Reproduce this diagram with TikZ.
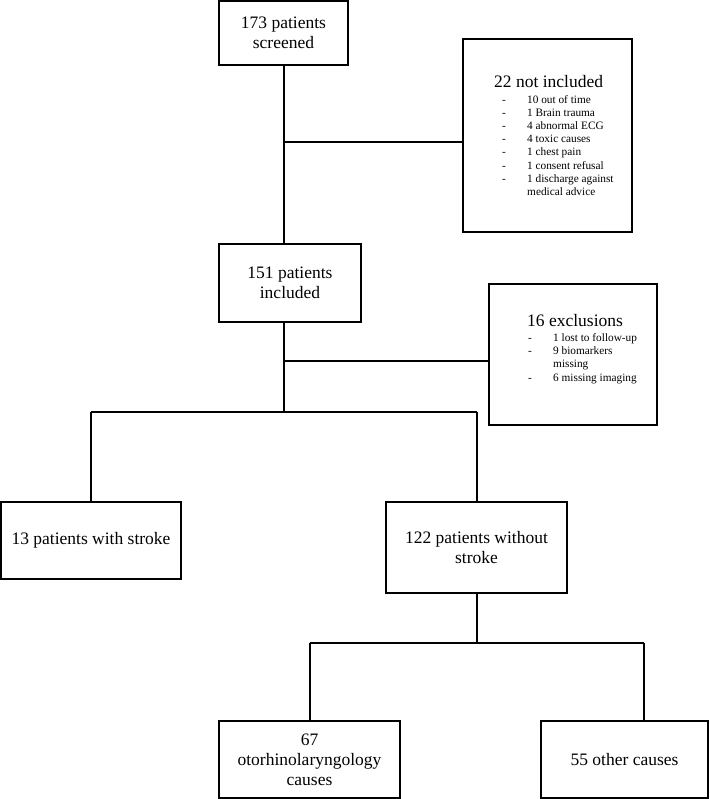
\documentclass[tikz,border=0pt]{standalone}
\usepackage{fontspec}
\setmainfont{Liberation Serif}
\usetikzlibrary{positioning,calc}
\tikzset{
  flowbox/.style={draw,line width=1.4pt,align=center,inner sep=2pt,
    font=\fontsize{17.5}{20}\selectfont},
  exbox/.style={draw,line width=1.4pt},
  exlist/.style={anchor=north west,align=left,inner sep=0pt,
    font=\fontsize{11.3}{13.2}\selectfont},
  link/.style={line width=2pt},
}
\newcommand{\exhead}[1]{{\fontsize{17.5}{13.2}\selectfont #1}}
\newcommand{\exitem}[3]{\hspace*{#1}\makebox[#2][l]{-}#3}

\begin{document}
\begin{tikzpicture}[x=1pt,y=-1pt]
    \useasboundingbox (0,0) rectangle (709,799);
    % main boxes
    \node[flowbox,minimum width=129pt,minimum height=64pt] (screened) at (283.5,33) {173 patients\\screened};
    \node[flowbox,minimum width=142pt,minimum height=78pt] (included) at (290,283) {151 patients\\included};
    \node[flowbox,minimum width=180pt,minimum height=77pt] (stroke) at (91,540.5) {13 patients with stroke};
    \node[flowbox,minimum width=181pt,minimum height=91pt] (nostroke) at (476.5,547.5) {122 patients without\\stroke};
    \node[flowbox,minimum width=181pt,minimum height=77pt] (orl) at (309.5,759.5) {67\\otorhinolaryngology\\causes};
    \node[flowbox,minimum width=167pt,minimum height=77pt] (other) at (624.5,759.5) {55 other causes};
    % exclusion boxes
    \node[exbox,minimum width=169pt,minimum height=193pt] (notincl) at (547.5,135.5) {};
    \node[exlist] (notincltxt) at (494,75.5) {\exhead{22 not included}\\[2pt]
      \exitem{8pt}{25pt}{10 out of time}\\
      \exitem{8pt}{25pt}{1 Brain trauma}\\
      \exitem{8pt}{25pt}{4 abnormal ECG}\\
      \exitem{8pt}{25pt}{4 toxic causes}\\
      \exitem{8pt}{25pt}{1 chest pain}\\
      \exitem{8pt}{25pt}{1 consent refusal}\\
      \exitem{8pt}{25pt}{1 discharge against}\\
      \hspace*{33pt}medical advice};
    \node[exbox,minimum width=168pt,minimum height=141pt] (excl) at (573,354.5) {};
    \node[exlist] (excltxt) at (527,314.5) {\exhead{16 exclusions}\\[1.5pt]
      \exitem{1pt}{25pt}{1 lost to follow-up}\\
      \exitem{1pt}{25pt}{9 biomarkers}\\
      \hspace*{26pt}missing\\
      \exitem{1pt}{25pt}{6 missing imaging}};
    % connectors
    \coordinate (trunk) at (284,0);
    \coordinate (jnot) at (trunk |- 0,142);
    \coordinate (jexcl) at (trunk |- 0,361);
    \coordinate (jsplit) at (trunk |- 0,412);
    \coordinate (jcause) at (nostroke.south |- 0,643);
    \draw[link] (screened.south -| trunk) -- (included.north -| trunk);
    \draw[link] (jnot) -- (jnot -| notincl.west);
    \draw[link] (included.south -| trunk) -- (jsplit);
    \draw[link] (jexcl) -- (jexcl -| excl.west);
    \draw[link] (jsplit -| stroke.north) -- (jsplit -| nostroke.north);
    \draw[link] (jsplit -| stroke.north) -- (stroke.north);
    \draw[link] (jsplit -| nostroke.north) -- (nostroke.north);
    \draw[link] (nostroke.south) -- (jcause);
    \draw[link] (jcause -| orl.north) -- (644,643);
    \draw[link] (jcause -| orl.north) -- (orl.north);
    \draw[link] (644,643) -- (orl.north -| 644,0);
\end{tikzpicture}
\end{document}
